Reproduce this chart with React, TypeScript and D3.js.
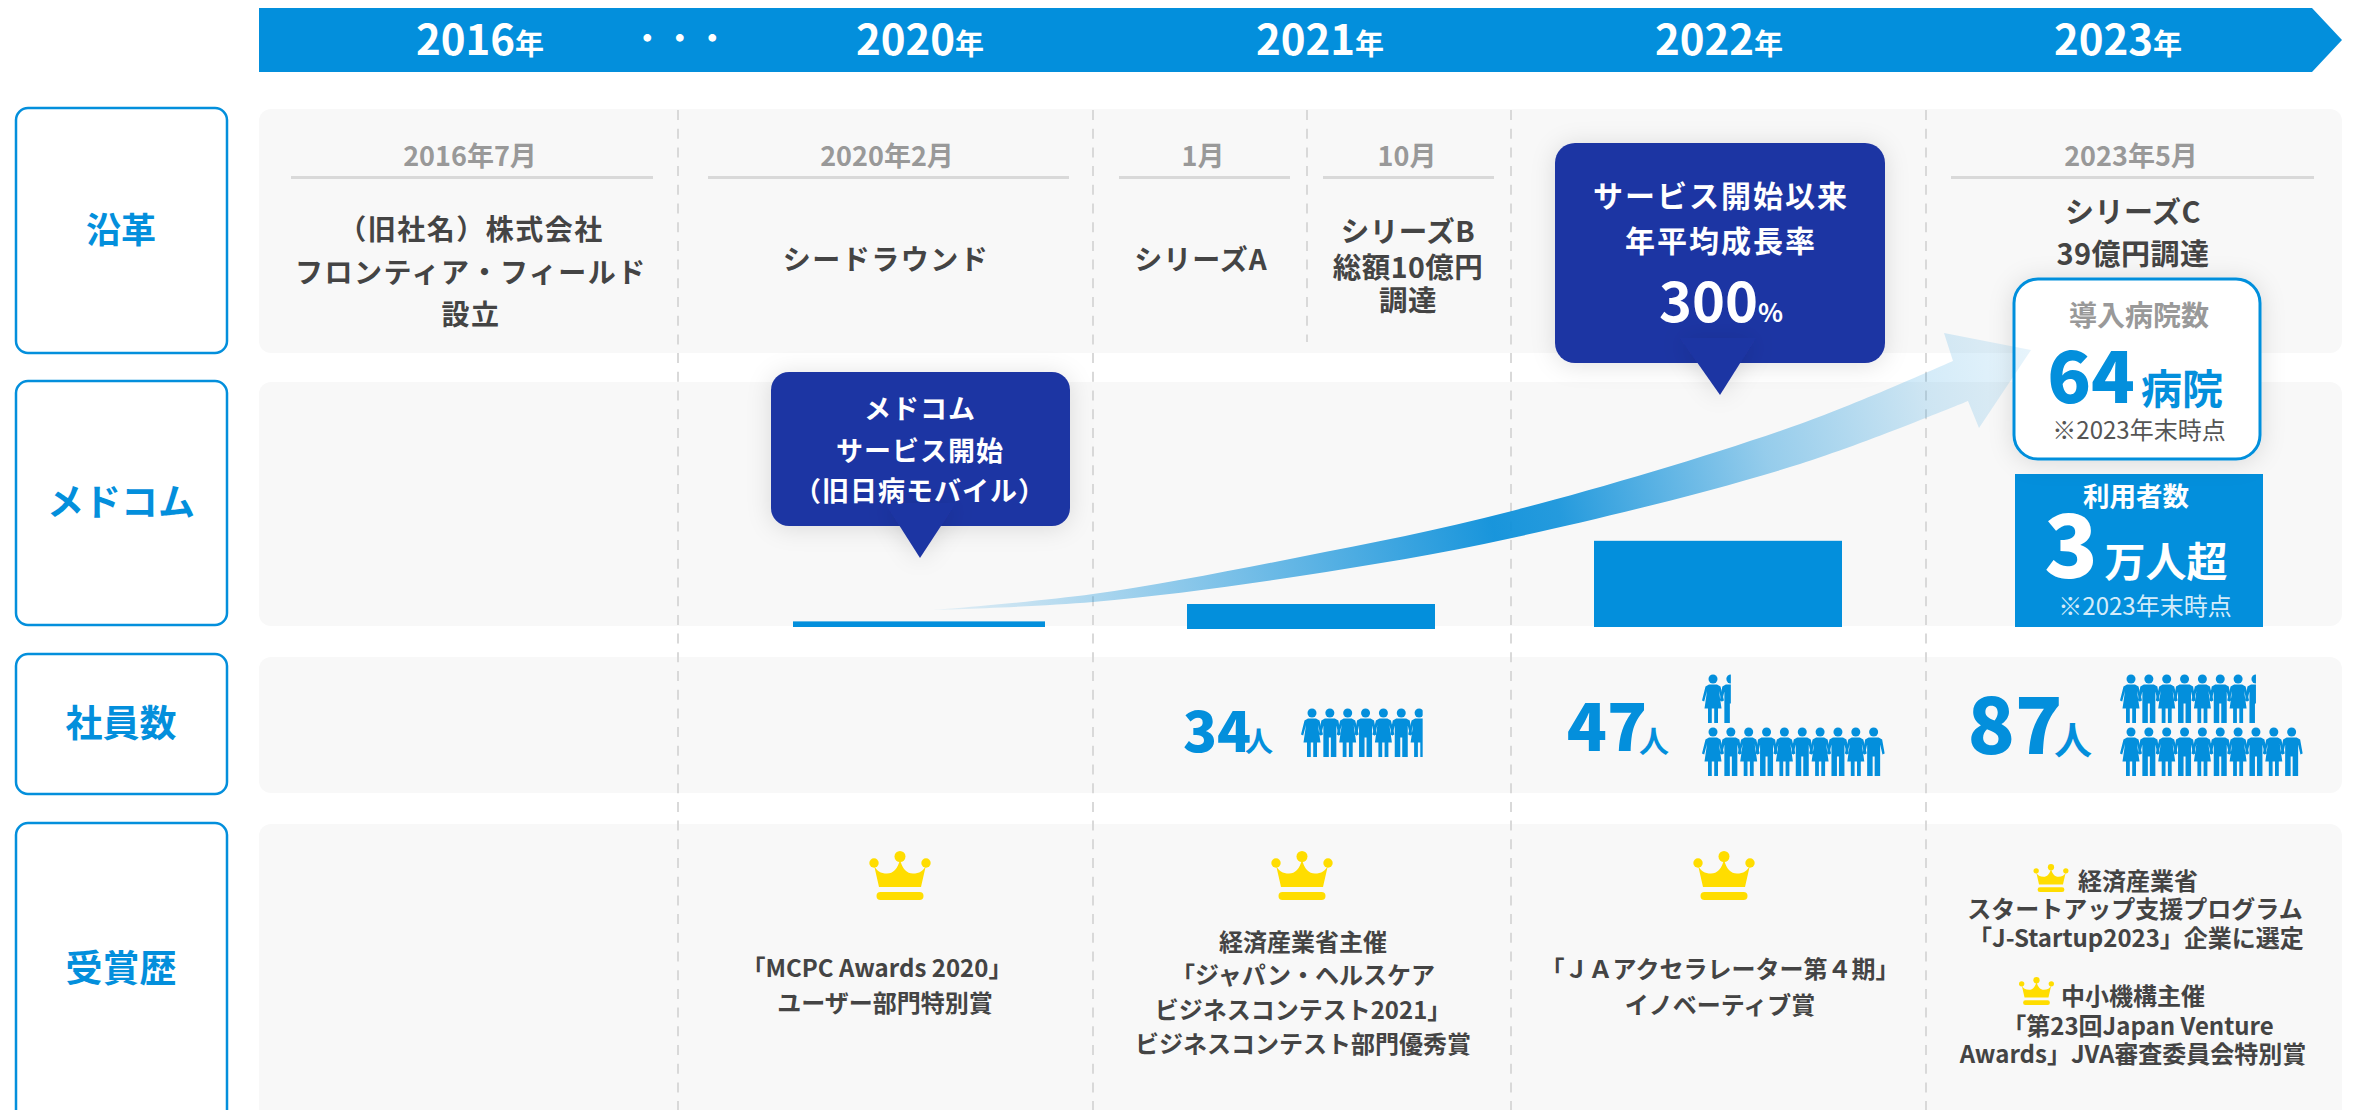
import React from "react";
import * as d3 from "d3";

const BLUE = "#038fdc";
const NAVY = "#1f35a3";
const PANEL = "#f8f8f8";
const INK = "#444444";
const FONT = '"Noto Sans CJK JP", "Noto Sans", sans-serif';

// header
const years = ["2016", "2020", "2021", "2022", "2023"];
const yearCenters = [480, 920, 1320, 1719, 2118];

// left labels
const rowLabels = ["沿革", "メドコム", "社員数", "受賞歴"];

// history
const historyDates = ["2016年7月", "2020年2月", "1月", "10月", "2023年5月"];
const historyLines = [
  ["（旧社名）株式会社", "フロンティア・フィールド", "設立"],
  ["シードラウンド"],
  ["シリーズA"],
  ["シリーズB", "総額10億円", "調達"],
  ["シリーズC", "39億円調達"],
];

// users
const barYears = ["2020", "2021", "2022", "2023"];
const barUsers = [1100, 4900, 16900, 30000];

// employees: one figure is about five people
const employeeYears = ["2021", "2022", "2023"];
const employeeCounts = [34, 47, 87];
const figureRows = [[6.7], [1.5, 10], [7.5, 10]];

// awards
const award2020 = ["「MCPC Awards 2020」", "ユーザー部門特別賞"];
const award2021 = ["経済産業省主催", "「ジャパン・ヘルスケア", "ビジネスコンテスト2021」", "ビジネスコンテスト部門優秀賞"];
const award2022 = ["「ＪＡアクセラレーター第４期」", "イノベーティブ賞"];
const award2023a = ["経済産業省", "スタートアップ支援プログラム", "「J-Startup2023」企業に選定"];
const award2023b = ["中小機構主催", "「第23回Japan Venture", "Awards」JVA審査委員会特別賞"];

// growth arrow outline
const arrowTop: [number, number][] = [[932, 610], [1093, 594], [1300, 557], [1512, 511], [1800, 424], [1953, 361]];
const arrowBottom: [number, number][] = [[932, 610], [1093, 602], [1300, 576], [1512, 538], [1800, 464], [1968, 401]];

const yUsers = d3.scaleLinear().domain([0, 30000]).range([627, 474]);
const xBar = d3.scaleOrdinal<string, number>().domain(barYears).range([793, 1187, 1594, 2015]);
const barW = d3.scaleOrdinal<string, number>().domain(barYears).range([252, 248, 248, 248]);
const barDrop = [0, 2, 0, 0];

const dashX = [678, 1093, 1511, 1926];
const rowBoxes = [
  { y: 108, h: 245 },
  { y: 381, h: 244 },
  { y: 654, h: 140 },
  { y: 823, h: 320 },
];
const panels = [
  { y: 109, h: 244 },
  { y: 382, h: 244 },
  { y: 657, h: 136 },
  { y: 824, h: 320 },
];

const edge = d3.line().curve(d3.curveCatmullRom.alpha(0.5));

function arrowPath() {
  const top = edge(arrowTop) as string;
  const bottom = edge([...arrowBottom].reverse() as [number, number][]) as string;
  return `${top} L1944,333 L2031,350 L1979,428 L1968,401 ${bottom.replace(/^M/, "L")} Z`;
}

function Txt({ x, y, size, fill = INK, weight = 700, ls = 0, anchor = "middle", children }: any) {
  return (
    <text
      x={x}
      y={y - 1}
      fontSize={size}
      fontWeight={weight}
      fill={fill}
      letterSpacing={ls}
      textAnchor={anchor}
      dominantBaseline="central"
    >
      {children}
    </text>
  );
}

function Lines({ lines, x, ys, size, fill = INK, ls = 0, weight = 700 }: any) {
  return lines.map((t: string, i: number) => {
    const cx = Array.isArray(x) ? x[i] : x;
    return (
      <Txt key={t} x={cx} y={ys[i]} size={size} fill={fill} ls={ls} weight={weight}>
        {t}
      </Txt>
    );
  });
}

const WOMAN = "M-4,10H4L7.5,12L11,26L8.8,27L6,16.5L8.5,34H5V48.5H1.2V34H-1.2V48.5H-5V34H-8.5L-6,16.5L-8.8,27L-11,26L-7.5,12Z";
const MAN = "M-5,10H5L8.5,12L11,26L8.8,27L6.5,17V48.5H1V29H-1V48.5H-6.5V17L-8.8,27L-11,26L-8.5,12Z";

function FigureRow({ id, x0, y, count }: any) {
  const dx = 17.85;
  const n = Math.ceil(count);
  const frac = count - Math.floor(count);
  const clipX = x0 + (n - 1) * dx + (frac === 0 ? 14 : (frac - 0.5) * dx);
  return (
    <g>
      <clipPath id={id}>
        <rect x={x0 - 14} y={y - 2} width={clipX - x0 + 14} height={56} />
      </clipPath>
      <g clipPath={`url(#${id})`}>
        {d3.range(n).map((i) => (
          <g key={i} transform={`translate(${x0 + i * dx},${y})`} fill={BLUE}>
            <circle cy={4.5} r={4.5} />
            <path d={i % 2 === 0 ? WOMAN : MAN} />
          </g>
        ))}
      </g>
    </g>
  );
}

function Crown({ cx, y, k = 1 }: any) {
  return (
    <g transform={`translate(${cx},${y}) scale(${k})`} fill="#ffdd00">
      <circle cx={-26} cy={12} r={4.7} />
      <circle cx={0} cy={5.5} r={5.5} />
      <circle cx={26} cy={12} r={4.7} />
      <path d="M-26,14C-24,20 -19,22.5 -13,22.5C-7,22.5 -2,18 0,8C2,18 7,22.5 13,22.5C19,22.5 24,20 26,14L21,36L-21,36Z" />
      <rect x={-23.5} y={41} width={47} height={8} rx={4} />
    </g>
  );
}

export default function App() {
  const figY = [
    [708.5],
    [674.5, 727.5],
    [674.5, 727.5],
  ];
  const figX = [1312, 1713, 2131];
  const countLabel = [
    { x: 1217, y: 731, n: 56, ux: 1259, uy: 741, u: 28 },
    { x: 1607, y: 727, n: 66, ux: 1654, uy: 740, u: 30 },
    { x: 2015, y: 725, n: 78, ux: 2073, uy: 738, u: 38 },
  ];
  return (
    <svg
      width={2354}
      height={1110}
      viewBox="0 0 2354 1110"
      style={{ position: "absolute", left: 0, top: 0, display: "block", background: "#fff" }}
      fontFamily={FONT}
    >
      <defs>
        <linearGradient id="swoosh" gradientUnits="userSpaceOnUse" x1={932} y1={610} x2={2031} y2={350}>
          <stop offset="0" stopColor="#0d90da" stopOpacity={0.08} />
          <stop offset="0.3" stopColor="#0d90da" stopOpacity={0.6} />
          <stop offset="0.5" stopColor="#0d90da" stopOpacity={0.95} />
          <stop offset="0.56" stopColor="#0d90da" stopOpacity={0.9} />
          <stop offset="0.75" stopColor="#0d90da" stopOpacity={0.42} />
          <stop offset="0.9" stopColor="#0d90da" stopOpacity={0.18} />
          <stop offset="1" stopColor="#0d90da" stopOpacity={0.1} />
        </linearGradient>
        <filter id="shadow" x="-30%" y="-30%" width="160%" height="160%">
          <feDropShadow dx={0} dy={2} stdDeviation={12} floodColor="#000" floodOpacity={0.12} />
        </filter>
      </defs>

      {/* timeline arrow */}
      <path d="M259,8H2312L2342,40L2312,72H259Z" fill={BLUE} />
      {years.map((y, i) => (
        <text key={y} x={yearCenters[i]} y={55} textAnchor="middle" fill="#fff" fontWeight={700} fontSize={42}>
          {y}
          <tspan fontSize={29}>年</tspan>
        </text>
      ))}
      <Txt x={681} y={37} size={30} fill="#fff" ls={2.5}>
        ・・・
      </Txt>

      {/* rows */}
      {panels.map((p, i) => (
        <rect key={i} x={259} y={p.y} width={2083} height={p.h} rx={12} fill={PANEL} />
      ))}
      {rowBoxes.map((b, i) => (
        <g key={rowLabels[i]}>
          <rect x={16} y={b.y} width={211} height={b.h} rx={12} fill="#fff" stroke={BLUE} strokeWidth={2.5} />
        </g>
      ))}
      <Txt x={121} y={228} size={35} fill={BLUE}>{rowLabels[0]}</Txt>
      <Txt x={121} y={501} size={37} fill={BLUE}>{rowLabels[1]}</Txt>
      <Txt x={121} y={722} size={37} fill={BLUE}>{rowLabels[2]}</Txt>
      <Txt x={121} y={967} size={37} fill={BLUE}>{rowLabels[3]}</Txt>

      {/* dashed dividers */}
      {dashX.map((x) => (
        <line key={x} x1={x} x2={x} y1={110} y2={1110} stroke="#d9d9d9" strokeWidth={2} strokeDasharray="10 8.7" />
      ))}
      <line x1={1307} x2={1307} y1={110} y2={342} stroke="#d9d9d9" strokeWidth={2} strokeDasharray="10 8.7" />

      {/* history */}
      {[
        { cx: 470, l: 291, r: 653 },
        { cx: 887, l: 708, r: 1069 },
        { cx: 1203, l: 1119, r: 1290 },
        { cx: 1407, l: 1323, r: 1494 },
        { cx: 2131, l: 1951, r: 2314 },
      ].map((d, i) => (
        <g key={historyDates[i]}>
          <Txt x={d.cx} y={155} size={27} fill="#999999">{historyDates[i]}</Txt>
          <line x1={d.l} x2={d.r} y1={177.5} y2={177.5} stroke="#d9d9d9" strokeWidth={3} />
        </g>
      ))}
      <Lines lines={historyLines[0]} x={471} ys={[229, 272, 314]} size={28} ls={1.5} />
      <Lines lines={historyLines[1]} x={886} ys={[259]} size={28} ls={1.5} />
      <Lines lines={historyLines[2]} x={1201} ys={[259]} size={28} ls={1} />
      <Lines lines={historyLines[3]} x={1408} ys={[230, 266, 299]} size={28.5} ls={0.5} />
      <Lines lines={historyLines[4]} x={2133} ys={[211, 253]} size={29} ls={0.5} />

      {/* user bars */}
      {barYears.map((y, i) => (
        <rect
          key={y}
          x={xBar(y)}
          y={yUsers(barUsers[i]) + barDrop[i]}
          width={barW(y)}
          height={yUsers(0) - yUsers(barUsers[i])}
          fill={BLUE}
        />
      ))}

      {/* callouts */}
      <g fill={NAVY}>
        <rect x={771} y={372} width={299} height={154} rx={18} filter="url(#shadow)" />
        <path d="M885,503L956,503L920,558Z" filter="url(#shadow)" />
        <rect x={1555} y={143} width={330} height={220} rx={20} filter="url(#shadow)" />
        <path d="M1680,338L1756,338L1720,395Z" filter="url(#shadow)" />
      </g>
      <Lines lines={["メドコム", "サービス開始", "（旧日病モバイル）"]} x={920} ys={[408, 450, 490]} size={27} fill="#fff" ls={1} />
      <Lines lines={["サービス開始以来", "年平均成長率"]} x={1721} ys={[195, 240]} size={30} fill="#fff" ls={2} />
      <text x={1721} y={322} textAnchor="middle" fill="#fff" fontWeight={700} fontSize={56}>
        300<tspan fontSize={26}>%</tspan>
      </text>

      {/* hospital card */}
      <rect x={2014} y={279} width={246} height={180} rx={24} fill="#fff" stroke={BLUE} strokeWidth={3} filter="url(#shadow)" />
      <Txt x={2139} y={315} size={28} fill="#999999">導入病院数</Txt>
      <text x={2091} y={403} textAnchor="middle" fill={BLUE} fontWeight={900} fontSize={72}>64</text>
      <Txt x={2182} y={387} size={41} fill={BLUE}>病院</Txt>
      <Txt x={2139} y={429} size={24} fill="#555555" weight={400}>※2023年末時点</Txt>

      {/* users block text */}
      <Txt x={2136} y={495} size={26.5} fill="#fff">利用者数</Txt>
      <text x={2071} y={578} textAnchor="middle" fill="#fff" fontWeight={900} fontSize={88}>3</text>
      <Txt x={2166} y={560} size={41} fill="#fff">万人超</Txt>
      <Txt x={2145} y={605} size={24} fill="#d4ecfa" weight={400}>※2023年末時点</Txt>

      {/* growth arrow */}
      <path d={arrowPath()} fill="url(#swoosh)" />

      {/* employees */}
      {employeeYears.map((y, i) => (
        <g key={y}>
          <text x={countLabel[i].x} y={countLabel[i].y + countLabel[i].n * 0.37} textAnchor="middle" fill={BLUE} fontWeight={900} fontSize={countLabel[i].n}>
            {employeeCounts[i]}
          </text>
          <Txt x={countLabel[i].ux} y={countLabel[i].uy} size={countLabel[i].u} fill={BLUE}>人</Txt>
          {figureRows[i].map((c, r) => (
            <FigureRow key={r} id={`fig-${i}-${r}`} x0={figX[i]} y={figY[i][r]} count={c} />
          ))}
        </g>
      ))}

      {/* awards */}
      <Crown cx={900} y={851} />
      <Crown cx={1302} y={851} />
      <Crown cx={1724} y={851} />
      <Crown cx={2051} y={864} k={0.57} />
      <Crown cx={2036.5} y={977} k={0.57} />
      <Lines lines={award2020} x={[877, 885]} ys={[967, 1002]} size={24} />
      <Lines lines={award2021} x={1303} ys={[941, 974, 1009, 1043]} size={24} />
      <Lines lines={award2022} x={1720} ys={[968, 1004]} size={24} />
      <Lines lines={award2023a} x={[2138, 2135, 2136]} ys={[880, 908, 937]} size={24} />
      <Lines lines={award2023b} x={[2133, 2138, 2133]} ys={[995, 1025, 1053]} size={24} />
    </svg>
  );
}
